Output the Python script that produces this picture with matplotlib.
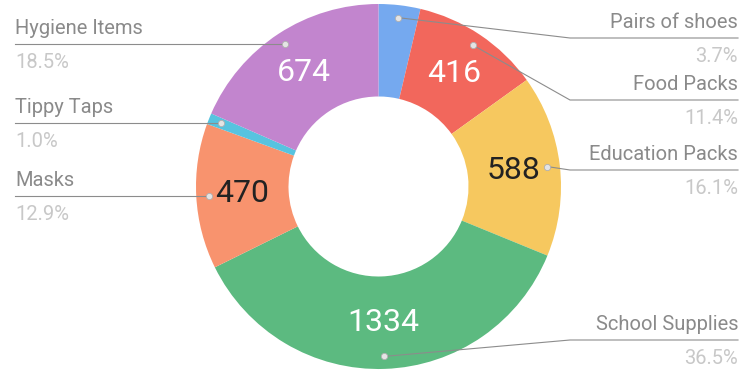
import matplotlib.pyplot as plt
import numpy as np

plt.rcParams['font.family'] = ['Roboto', 'DejaVu Sans']

# Items distributed
labels = ["Pairs of shoes", "Food Packs", "Education Packs", "School Supplies",
          "Masks", "Tippy Taps", "Hygiene Items"]
counts = [135, 416, 588, 1334, 470, 36, 674]
colors = ["#75a9ef", "#f2675c", "#f6c85f", "#5cba80", "#f8936e", "#57c3df", "#c285ce"]
value_colors = ["white", "white", "#222222", "white", "#222222", "white", "white"]

# label layout: side and y of the horizontal leader line (pixels from top)
sides = ["R", "R", "R", "R", "L", "L", "L"]
line_y = [38, 100, 170, 340, None, None, None]

W, H = 741, 371
cx, cy = 378.5, H - 186.5
R_out, R_in = 182.5, 90

fig = plt.figure(figsize=(W / 100, H / 100), dpi=100)
ax = fig.add_axes([0, 0, 1, 1])

ax.pie(counts, colors=colors, startangle=90, counterclock=False,
       center=(cx, cy), radius=R_out,
       wedgeprops=dict(width=R_out - R_in, linewidth=0))
ax.set_xlim(0, W)
ax.set_ylim(0, H)
ax.set_aspect("equal")
ax.axis("off")

total = sum(counts)
pcts = [c / total * 100 for c in counts]
cum = np.cumsum([0] + pcts[:-1])
mids = cum + np.array(pcts) / 2

line_col = "#8c8c8c"
name_col = "#8a8a8a"
pct_col = "#c8c8c8"

for i, lab in enumerate(labels):
    ang = np.deg2rad(mids[i] / 100 * 360)
    dx, dy = np.sin(ang), np.cos(ang)

    # value inside the ring
    if pcts[i] > 5:
        rv = (R_out + R_in) / 2
        ax.text(cx + rv * dx, cy + rv * dy, str(counts[i]), ha="center", va="center",
                fontsize=23, color=value_colors[i])

    # leader line with dot
    px, py = cx + 170 * dx, cy + 170 * dy
    ly = H - line_y[i] if line_y[i] is not None else py
    if sides[i] == "R":
        ex = 738
        if abs(ly - py) > 3:
            xs, ys = [px, 570, ex], [py, ly, ly]
        else:
            xs, ys = [px, ex], [py, ly]
        ha = "right"
    else:
        ex = 15
        xs, ys = [px, ex], [py, ly]
        ha = "left"
    ax.plot(xs, ys, color=line_col, lw=0.8, zorder=3)
    ax.plot(px, py, "o", ms=4.5, mfc="#e4e4e4", mec="#b0b0b0", mew=0.6, zorder=4)

    ax.text(ex, ly + 10, lab, ha=ha, va="baseline", fontsize=14.5, color=name_col)
    ax.text(ex, ly - 24, f"{pcts[i]:.1f}%", ha=ha, va="baseline", fontsize=14.5,
            color=pct_col)

fig.savefig("out.png", dpi=100, facecolor="white")
